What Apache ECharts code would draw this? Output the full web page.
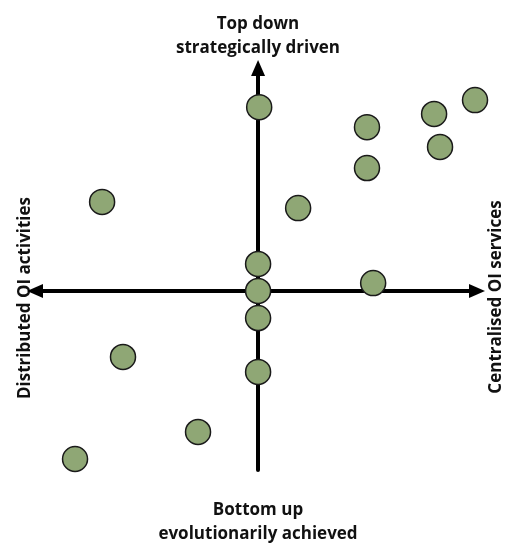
<!DOCTYPE html>
<html>
    <head>
        <meta charset="UTF-8">
        <title></title>
        <style>
            html, body { margin: 0; padding: 0; background: #fff; }
            #chart { width: 505px; height: 545px; }
        </style>
        <script src="https://cdn.jsdelivr.net/npm/echarts@6/dist/echarts.min.js"></script>
    </head>
    <body>
        <div id="chart"></div>
    </body>
    <script>
        // positions: x = distributed (-) .. centralised (+), y = bottom up (-) .. top down (+)
        var xValues = [0.05, 9.86, 8.0, 4.95, 8.27, 4.95, -7.09, 1.82, 0, 0, 5.23, 0, -6.14, 0, -2.73, -8.32];
        var yValues = [8.36, 8.68, 8.05, 7.45, 6.55, 5.59, 4.05, 3.77, 1.23, 0, 0.36, -1.23, -3.0, -3.68, -6.41, -7.64];

        var topLabel = 'Top down\nstrategically driven';
        var bottomLabel = 'Bottom up\nevolutionarily achieved';
        var leftLabel = 'Distributed OI activities';
        var rightLabel = 'Centralised OI services';

        var data = xValues.map(function (x, i) { return [x, yValues[i]]; });

        function label(text, x, y, rot) {
            return {
                type: 'text', x: x, y: y, rotation: rot || 0,
                style: {
                    text: text, font: 'bold 17px "Open Sans", sans-serif',
                    fill: '#111', align: 'center', verticalAlign: 'middle', lineHeight: 24
                }
            };
        }

        var chart = echarts.init(document.getElementById('chart'));
        chart.setOption({
            animation: false,
            grid: { left: 35, width: 442, top: 68, height: 402 },
            xAxis: {
                type: 'value', min: -10.14, max: 9.95,
                splitLine: { show: false },
                axisTick: { show: false },
                axisLabel: { show: false },
                axisLine: {
                    onZero: true,
                    lineStyle: { color: '#000', width: 4 },
                    symbol: ['triangle', 'triangle'],
                    symbolSize: [14, 16]
                }
            },
            yAxis: {
                type: 'value', min: -8.14, max: 10.14,
                splitLine: { show: false },
                axisTick: { show: false },
                axisLabel: { show: false },
                axisLine: {
                    onZero: true,
                    lineStyle: { color: '#000', width: 4 },
                    symbol: ['none', 'triangle'],
                    symbolSize: [14, 16]
                }
            },
            series: [{
                type: 'scatter',
                data: data,
                symbolSize: 25,
                itemStyle: { color: '#8fa775', borderColor: '#1a1a1a', borderWidth: 1.5, opacity: 1 },
                z: 3
            }],
            graphic: [
                label(topLabel, 258, 36),
                label(bottomLabel, 258, 522.5),
                label(leftLabel, 25, 298, Math.PI / 2),
                label(rightLabel, 496, 297, Math.PI / 2)
            ]
        });
    </script>
</html>
